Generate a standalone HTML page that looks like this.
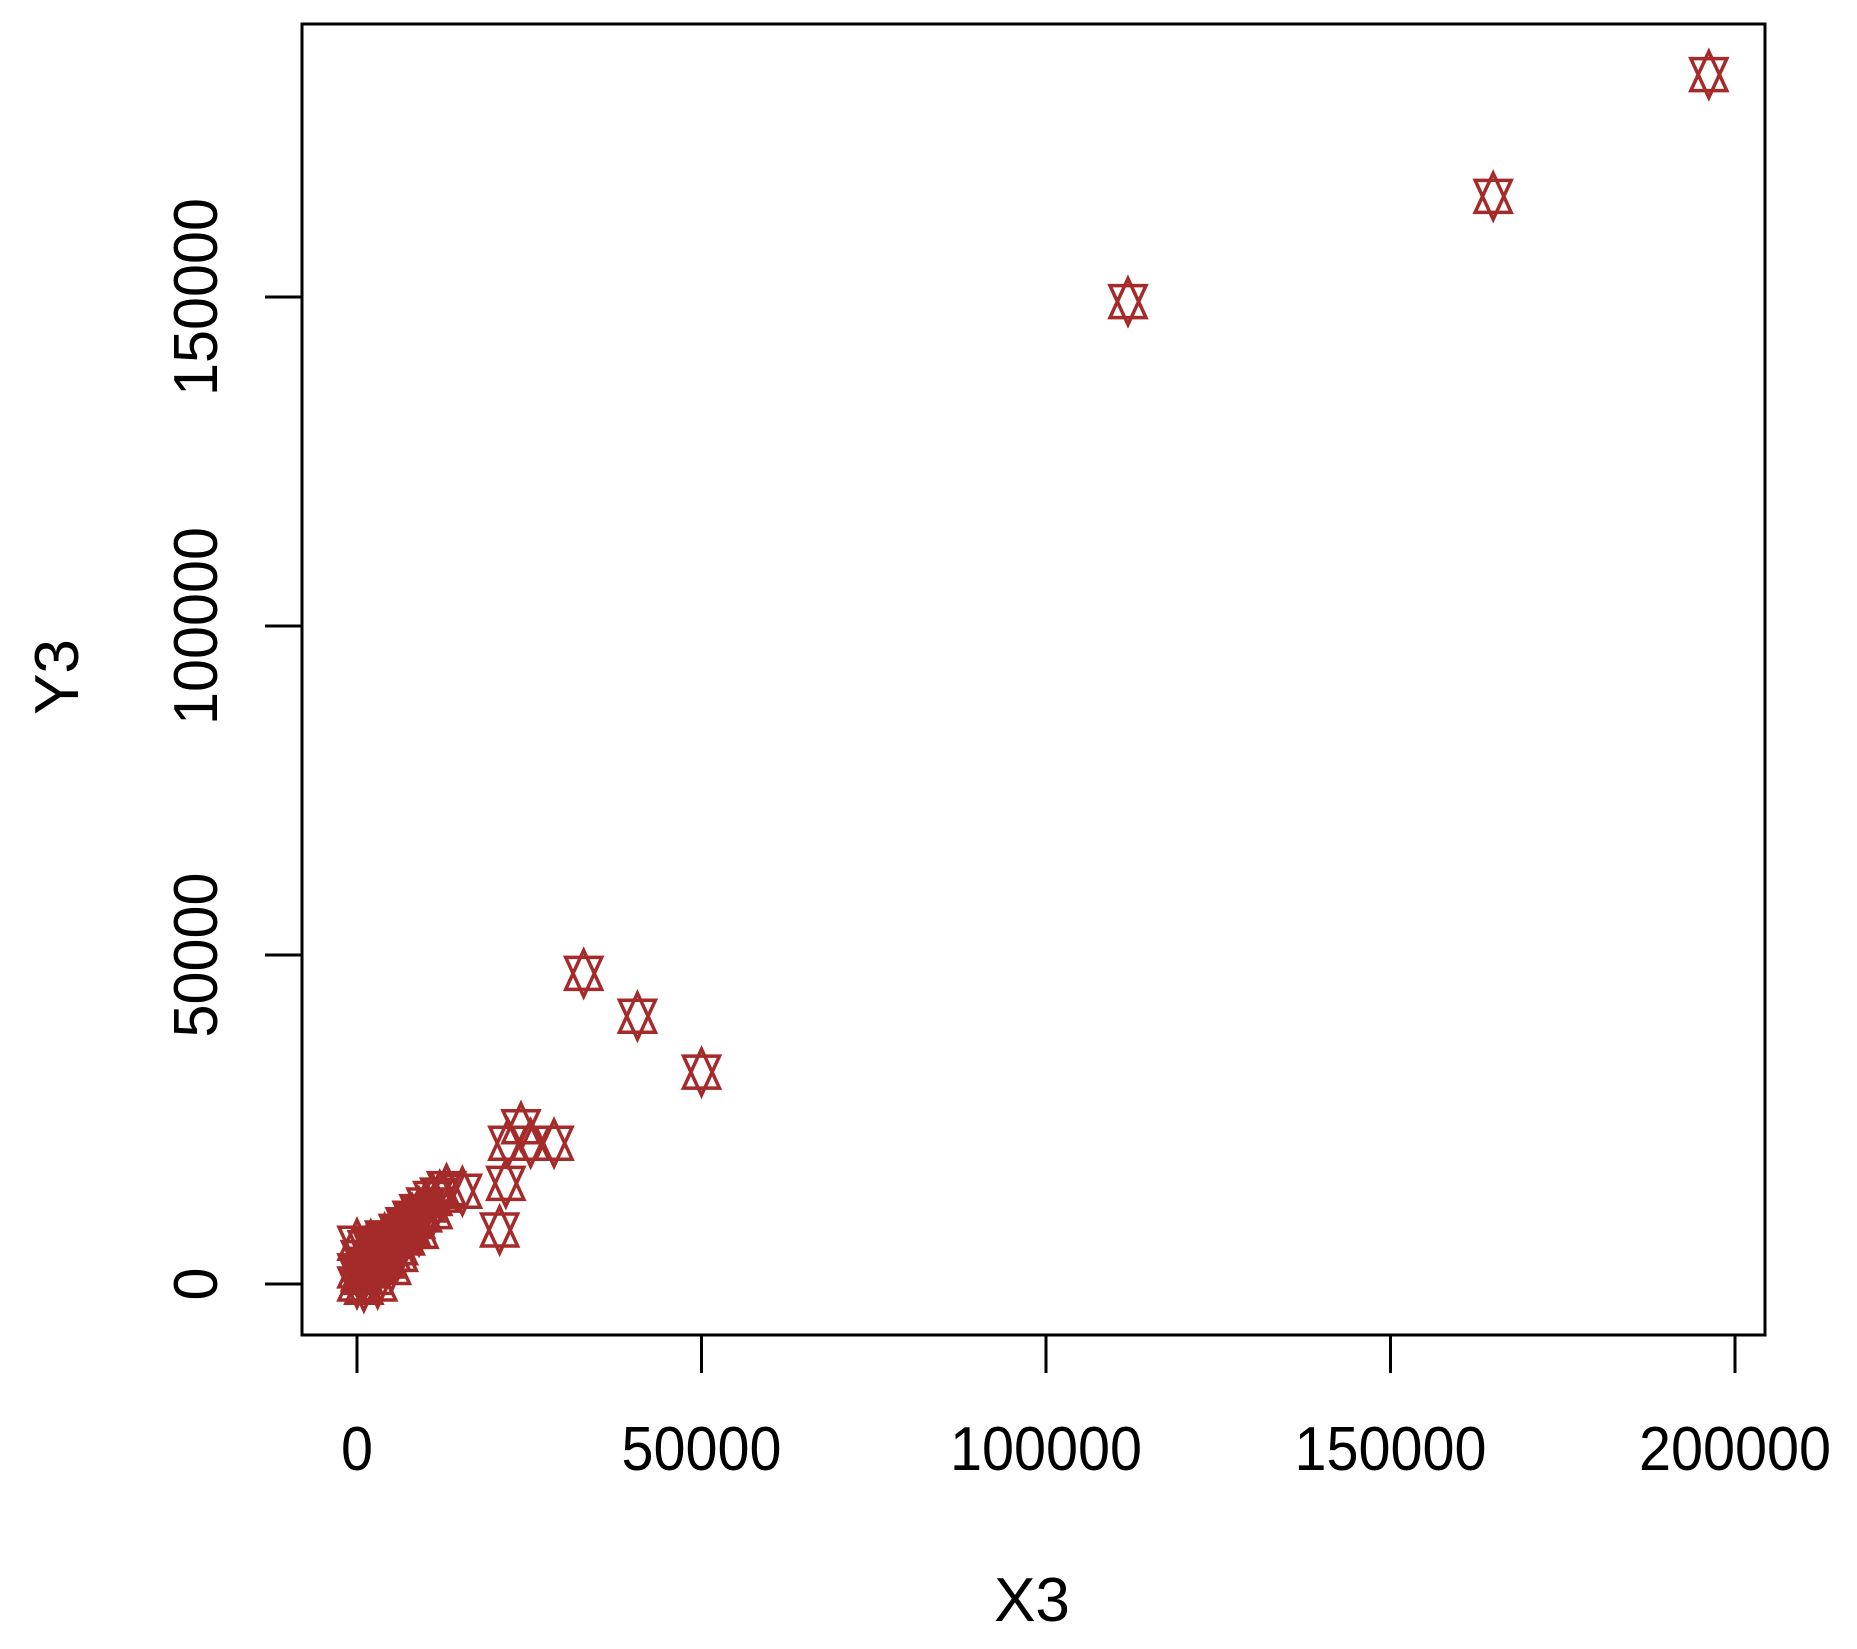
<!DOCTYPE html>
<html><head><meta charset="utf-8"><style>
html,body{margin:0;padding:0;background:#fff;}
svg{display:block;}
text{font-family:"Liberation Sans",Arial,sans-serif;fill:#000;}
</style></head><body>
<svg id="chart" width="1857" height="1649" viewBox="0 0 1857 1649" xmlns="http://www.w3.org/2000/svg">
<rect x="0" y="0" width="1857" height="1649" fill="#fff"/>
<g id="points"></g>
<rect x="302" y="24" width="1463" height="1311" fill="none" stroke="#000" stroke-width="3"/>
<g id="axes"></g>
<text x="1032" y="1621" font-size="62" text-anchor="middle">X3</text>
<text x="0" y="0" font-size="62" text-anchor="middle" transform="translate(78,677) rotate(-90)">Y3</text>
</svg>
<script>
const xTicks = [0, 50000, 100000, 150000, 200000];
const yTicks = [0, 50000, 100000, 150000];
const xValues = [196200,164900,111900,32900,40700,50000,23800,28600,25200,21900,21600,20700,15300,13000,
  0,500,1000,1500,2000,2500,3000,3500,4000,4500,5000,5500,6000,6500,7000,7500,8000,8500,9000,9500,10000,11000,12000,
  0,1000,2000,3000,4000,5000,6000,7000,8000,0,2000,4000,1000,3000,5000,6000,9000,11000,500,1500,2500];
const yValues = [183800,165300,149300,47200,40700,32200,23900,21400,21400,21400,15300,8200,14100,14500,
  2000,1500,3000,2500,4000,3500,5000,4500,6000,5500,7000,6500,8000,7500,9000,8500,10000,9500,11000,10500,12000,13000,13500,
  0,1000,2000,3000,3500,4500,5500,7000,8000,6200,6000,7000,-500,0,2500,4500,8000,11000,4000,5500,1000];

const X0 = 357, PX_PER_X = 344.5/50000;
const Y0 = 1284, PX_PER_Y = 329/50000;
function sx(v){ return X0 + v*PX_PER_X; }
function sy(v){ return Y0 - v*PX_PER_Y; }
const NS = 'http://www.w3.org/2000/svg';
const axes = document.getElementById('axes');
const pts = document.getElementById('points');

const xl = document.createElementNS(NS,'line');
xl.setAttribute('x1', sx(xTicks[0])); xl.setAttribute('x2', sx(xTicks[xTicks.length-1]));
xl.setAttribute('y1', 1335); xl.setAttribute('y2', 1335);
xl.setAttribute('stroke','#000'); xl.setAttribute('stroke-width','3');


axes.appendChild(xl);
xTicks.forEach(t=>{
  const l = document.createElementNS(NS,'line');
  l.setAttribute('x1', sx(t)); l.setAttribute('x2', sx(t));
  l.setAttribute('y1', 1335); l.setAttribute('y2', 1373);
  l.setAttribute('stroke','#000'); l.setAttribute('stroke-width','3');
  
  
  axes.appendChild(l);
  const tx = document.createElementNS(NS,'text');
  tx.setAttribute('x', sx(t)); tx.setAttribute('y', 1470);
  tx.setAttribute('font-size','62'); tx.setAttribute('text-anchor','middle');
  const s = String(t);
  tx.setAttribute('textLength', s.length*32); tx.setAttribute('lengthAdjust','spacingAndGlyphs');
  tx.textContent = s;
  
  
  axes.appendChild(tx);
});
const yl = document.createElementNS(NS,'line');
yl.setAttribute('x1', 302); yl.setAttribute('x2', 302);
yl.setAttribute('y1', sy(yTicks[0])); yl.setAttribute('y2', sy(yTicks[yTicks.length-1]));
yl.setAttribute('stroke','#000'); yl.setAttribute('stroke-width','3');


axes.appendChild(yl);
yTicks.forEach(t=>{
  const l = document.createElementNS(NS,'line');
  l.setAttribute('x1', 265); l.setAttribute('x2', 302);
  l.setAttribute('y1', sy(t)); l.setAttribute('y2', sy(t));
  l.setAttribute('stroke','#000'); l.setAttribute('stroke-width','3');
  
  
  axes.appendChild(l);
  const tx = document.createElementNS(NS,'text');
  tx.setAttribute('x', 0); tx.setAttribute('y', 0);
  tx.setAttribute('font-size','62'); tx.setAttribute('text-anchor','middle');
  const s = String(t);
  tx.setAttribute('textLength', s.length*33); tx.setAttribute('lengthAdjust','spacingAndGlyphs');
  tx.setAttribute('transform', 'translate(217,'+sy(t)+') rotate(-90)');
  tx.textContent = s;
  
  
  axes.appendChild(tx);
});
const HW = 18, H = 23, B = 16;
for (let i=0;i<xValues.length;i++){
  const cx = sx(xValues[i]), cy = sy(yValues[i]);
  const g = document.createElementNS(NS,'g');
  
  
  const up = document.createElementNS(NS,'polygon');
  up.setAttribute('points', `${cx},${cy-H} ${cx+HW},${cy+B} ${cx-HW},${cy+B}`);
  const dn = document.createElementNS(NS,'polygon');
  dn.setAttribute('points', `${cx-HW},${cy-B} ${cx+HW},${cy-B} ${cx},${cy+H}`);
  [up,dn].forEach(p=>{p.setAttribute('fill','none');p.setAttribute('stroke','#a52a2a');p.setAttribute('stroke-width','3.5');g.appendChild(p);});
  pts.appendChild(g);
}
</script>
</body></html>
